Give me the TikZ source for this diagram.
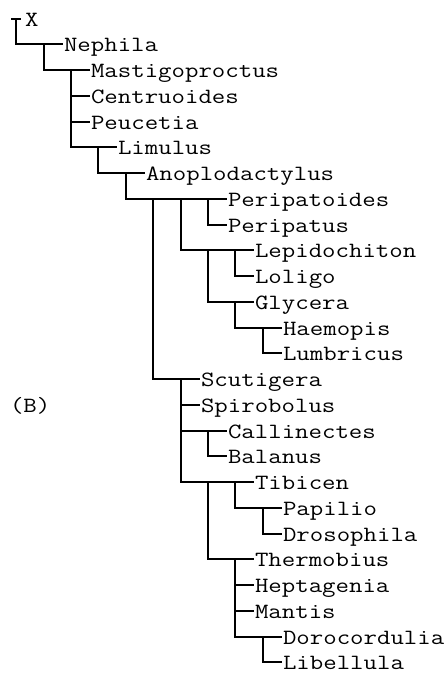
\documentclass[tikz,border=0pt]{standalone}
\usepackage{graphicx}
\newcommand{\lbl}[1]{\scalebox{1.2}[1]{\ttfamily\fontsize{21.75}{22}\selectfont #1}}
\newcommand{\cx}[1]{round(16.3+27.4*#1)}
\newcommand{\ry}[1]{-round(18.5+25.75*#1)}
\tikzset{
  br/.style={line width=2pt, line cap=rect, line join=miter, black},
  leaf/.style={anchor=base west, inner sep=0pt, outer sep=0pt}
}
\begin{document}
\begin{tikzpicture}[x=1pt,y=1pt]
\useasboundingbox (0,0) rectangle (444,-673);
% internal nodes: name / column / first row / last row
\foreach \n/\k/\a/\b in {n0/0/0/1, n1/1/1/2, n2/2/2/5, n3/3/5/6, n4/4/6/7,
  n5/5/7/14, n6/6/7/9, n7/7/7/8, n8/7/9/11, n9/8/9/10, n10/8/11/12,
  n11/9/12/13, n12/6/14/18, n13/7/16/17, n14/7/18/21, n15/8/18/19,
  n16/9/19/20, n17/8/21/24, n18/9/24/25}{
  \coordinate (\n) at ({\cx{\k}},{\ry{\a}});
  \coordinate (b\n) at ({\cx{\k}},{\ry{\b}});
}
% root mark and X
\coordinate (rootL) at (12,{\ry{0}});
\coordinate (rootR) at (20,{\ry{0}});
\draw[br] (rootL) -- (rootR);
\node[leaf] (X) at (25,{\ry{0}-7}) {\lbl{X}};
% verticals
\foreach \n in {n0,n1,n2,n3,n4,n5,n6,n7,n8,n9,n10,n11,n12,n13,n14,n15,n16,n17,n18}{
  \draw[br] (\n) -- (b\n);
}
% parent to child connectors
\foreach \p/\n in {n0/n1, n1/n2, n2/n3, n3/n4, n4/n5, n5/n6, n6/n7, n6/n8,
  n8/n9, n8/n10, n10/n11, n5/n12, n12/n13, n12/n14, n14/n15, n15/n16,
  n14/n17, n17/n18}{
  \draw[br] (\p |- \n) -- (\n);
}
% leaves: name / parent / column / row
\foreach \nm/\p/\k/\r in {Nephila/n1/1/1, Mastigoproctus/n2/2/2,
  Centruoides/n2/2/3, Peucetia/n2/2/4, Limulus/n3/3/5,
  Anoplodactylus/n4/4/6, Peripatoides/n7/7/7, Peripatus/n7/7/8,
  Lepidochiton/n9/8/9, Loligo/n9/8/10, Glycera/n10/8/11,
  Haemopis/n11/9/12, Lumbricus/n11/9/13, Scutigera/n12/6/14,
  Spirobolus/n12/6/15, Callinectes/n13/7/16, Balanus/n13/7/17,
  Tibicen/n15/8/18, Papilio/n16/9/19, Drosophila/n16/9/20,
  Thermobius/n17/8/21, Heptagenia/n17/8/22, Mantis/n17/8/23,
  Dorocordulia/n18/9/24, Libellula/n18/9/25}{
  \coordinate (t\nm) at ({\cx{\k}+18},{\ry{\r}});
  \node[leaf] (\nm) at ({\cx{\k}+20},{\ry{\r}-7}) {\lbl{\nm}};
  \draw[br] (\p |- t\nm) -- (t\nm);
}
% panel label
\node[leaf] (B) at (10,{\ry{15}-7}) {\lbl{(B)}};
\end{tikzpicture}
\end{document}
